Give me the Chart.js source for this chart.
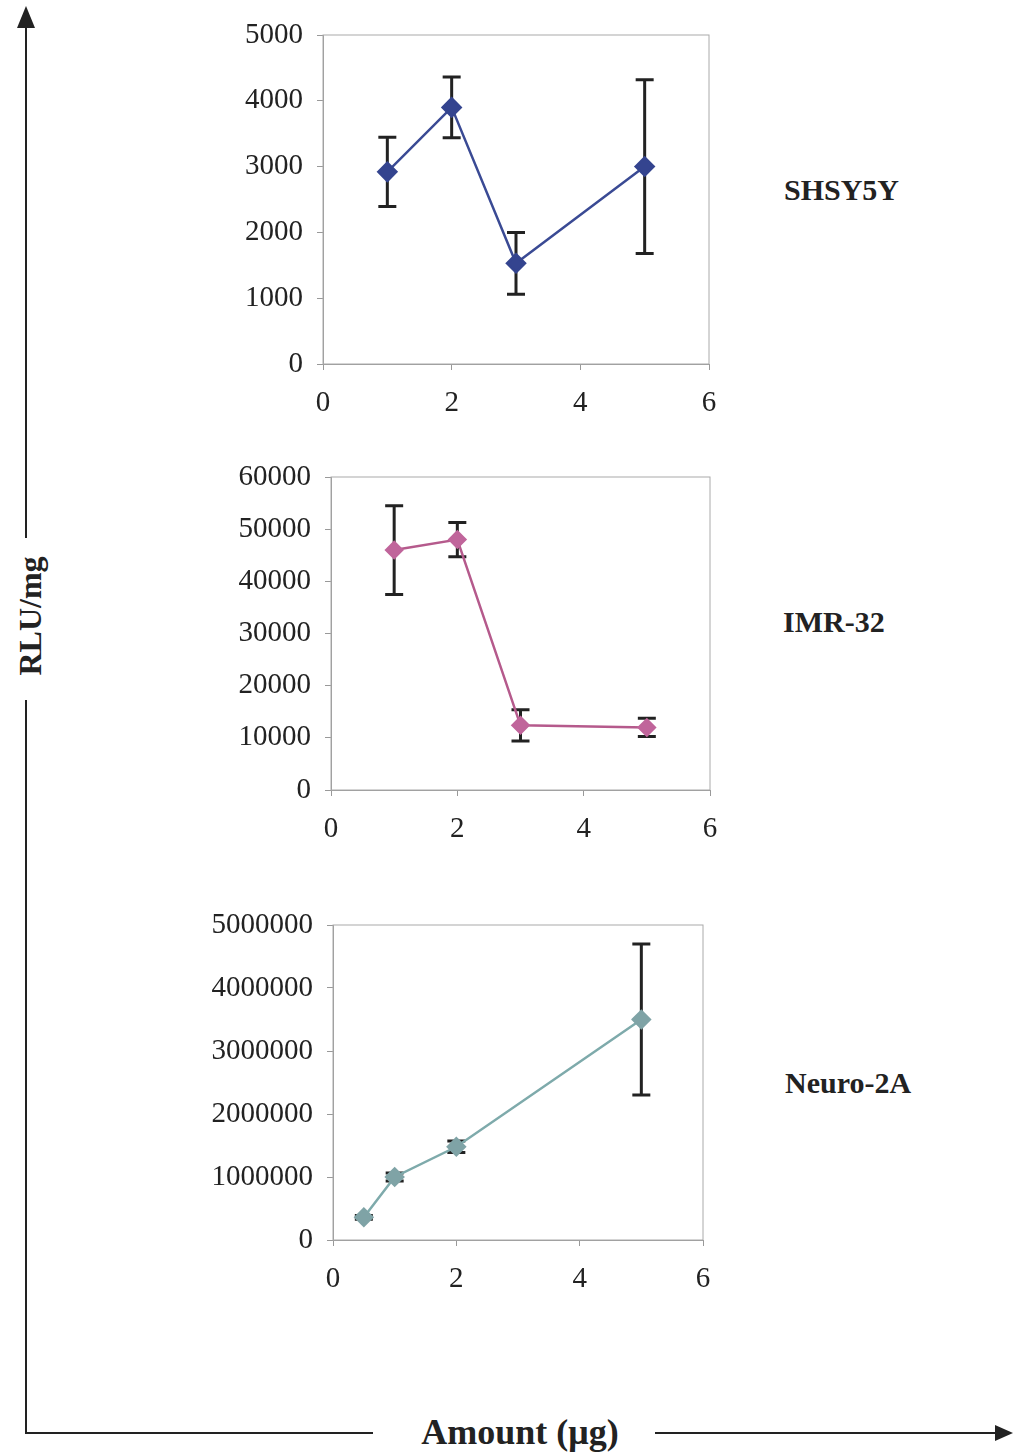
<!DOCTYPE html>
<html>
<head>
<meta charset="utf-8">
<script src="https://cdn.jsdelivr.net/npm/chart.js@4"></script>
<style>
  body { margin: 0; background: #fff; width: 1013px; height: 1455px; position: relative; overflow: hidden; }
  .box { position: absolute; }
  .lbl { position: absolute; font-family: "Liberation Serif", "DejaVu Serif", serif; font-weight: bold; color: #222; white-space: nowrap; }
  svg { position: absolute; left: 0; top: 0; }
</style>
</head>
<body>

<svg width="1013" height="1455">
  <line x1="26" y1="24" x2="26" y2="538" stroke="#222" stroke-width="2"/>
  <line x1="26" y1="700" x2="26" y2="1434" stroke="#222" stroke-width="2"/>
  <polygon points="26,6 17,28 35,28" fill="#222"/>
  <line x1="25" y1="1433" x2="373" y2="1433" stroke="#222" stroke-width="2"/>
  <line x1="655" y1="1433" x2="998" y2="1433" stroke="#222" stroke-width="2"/>
  <polygon points="1013,1433 995,1425 995,1441" fill="#222"/>
</svg>

<div class="lbl" style="left:30px;top:616px;font-size:32px;transform:translate(-50%,-50%) rotate(-90deg);">RLU/mg</div>
<div class="lbl" style="left:520px;top:1432px;font-size:36px;transform:translate(-50%,-50%);">Amount (μg)</div>
<div class="lbl" style="left:784px;top:190px;font-size:30px;transform:translateY(-50%);">SHSY5Y</div>
<div class="lbl" style="left:783px;top:622px;font-size:30px;transform:translateY(-50%);">IMR-32</div>
<div class="lbl" style="left:785px;top:1083px;font-size:30px;transform:translateY(-50%);">Neuro-2A</div>

<div class="box" style="left:180px;top:15px;width:560px;height:420px;"><canvas id="c1"></canvas></div>
<div class="box" style="left:180px;top:455px;width:560px;height:400px;"><canvas id="c2"></canvas></div>
<div class="box" style="left:180px;top:900px;width:560px;height:410px;"><canvas id="c3"></canvas></div>

<script>
// SHSY5Y
const shX = [1, 2, 3, 5];
const shY = [2920, 3900, 1530, 3000];
const shErr = [525, 460, 470, 1320];
const shTicks = [0, 1000, 2000, 3000, 4000, 5000];

// IMR-32
const imrX = [1, 2, 3, 5];
const imrY = [46000, 48000, 12400, 12000];
const imrErr = [8500, 3300, 3000, 1750];
const imrTicks = [0, 10000, 20000, 30000, 40000, 50000, 60000];

// Neuro-2A
const neuroX = [0.5, 1, 2, 5];
const neuroY = [360000, 1000000, 1480000, 3500000];
const neuroErr = [30000, 65000, 90000, 1200000];
const neuroTicks = [0, 1000000, 2000000, 3000000, 4000000, 5000000];

const xTicks = [0, 2, 4, 6];

const tickFont = { family: "'Liberation Serif', serif", size: 29 };

// error bars + grey frame round the plot area
const errorBars = {
  id: 'errorBars',
  beforeDatasetsDraw(chart) {
    const ctx = chart.ctx;
    const a = chart.chartArea;
    ctx.save();
    ctx.strokeStyle = '#aaa';
    ctx.lineWidth = 1;
    ctx.strokeRect(a.left, a.top, a.right - a.left, a.bottom - a.top);

    const errs = chart.options.plugins.errorBars.errors;
    const cap = chart.options.plugins.errorBars.cap;
    const xs = chart.scales.x, ys = chart.scales.y;
    chart.data.datasets[0].data.forEach((p, i) => {
      const px = xs.getPixelForValue(p.x);
      const top = ys.getPixelForValue(p.y + errs[i]);
      const bot = ys.getPixelForValue(p.y - errs[i]);
      ctx.strokeStyle = '#222';
      ctx.lineWidth = 3;
      ctx.beginPath();
      ctx.moveTo(px, top); ctx.lineTo(px, bot);
      ctx.moveTo(px - cap, top); ctx.lineTo(px + cap, top);
      ctx.moveTo(px - cap, bot); ctx.lineTo(px + cap, bot);
      ctx.stroke();
    });
    ctx.restore();
  }
};

function noPad(s) {
  s.paddingLeft = 0; s.paddingRight = 0; s.paddingTop = 0; s.paddingBottom = 0;
}

function makeChart(id, xs, ys, errs, yTicks, lineColor, pointColor, yWidth, pad, xHeight, radius) {
  const ctx = document.getElementById(id).getContext('2d');
  return new Chart(ctx, {
    type: 'scatter',
    data: {
      datasets: [{
        data: xs.map((x, i) => ({ x: x, y: ys[i] })),
        showLine: true,
        borderColor: lineColor,
        borderWidth: 2.5,
        pointStyle: 'rectRot',
        pointRadius: radius,
        pointBackgroundColor: pointColor,
        pointBorderColor: pointColor
      }]
    },
    options: {
      responsive: true,
      maintainAspectRatio: false,
      animation: false,
      layout: { padding: pad },
      plugins: {
        legend: { display: false },
        tooltip: { enabled: false },
        errorBars: { errors: errs, cap: 9 }
      },
      scales: {
        x: {
          type: 'linear',
          min: 0,
          max: 6,
          afterBuildTicks: s => { s.ticks = xTicks.map(v => ({ value: v })); },
          afterFit: s => { s.height = xHeight; noPad(s); },
          ticks: { font: tickFont, color: '#222', padding: 16, maxRotation: 0 },
          grid: { drawOnChartArea: false, tickLength: 6, color: '#999' },
          border: { color: '#999' }
        },
        y: {
          min: 0,
          max: yTicks[yTicks.length - 1],
          afterBuildTicks: s => { s.ticks = yTicks.map(v => ({ value: v })); },
          afterFit: s => { s.width = yWidth; noPad(s); },
          ticks: { font: tickFont, color: '#222', padding: 14, callback: v => String(v) },
          grid: { drawOnChartArea: false, tickLength: 6, color: '#999' },
          border: { color: '#999' }
        }
      }
    },
    plugins: [errorBars]
  });
}

makeChart('c1', shX, shY, shErr, shTicks, '#3a4a94', '#34448f', 143,
  { top: 20, right: 31, left: 0, bottom: 0 }, 71, 9);
makeChart('c2', imrX, imrY, imrErr, imrTicks, '#b55a8c', '#c0659b', 151,
  { top: 22, right: 30, left: 0, bottom: 0 }, 65, 8);
makeChart('c3', neuroX, neuroY, neuroErr, neuroTicks, '#7eaaab', '#7fa3a6', 153,
  { top: 25, right: 37, left: 0, bottom: 0 }, 70, 8.5);
</script>
</body>
</html>
